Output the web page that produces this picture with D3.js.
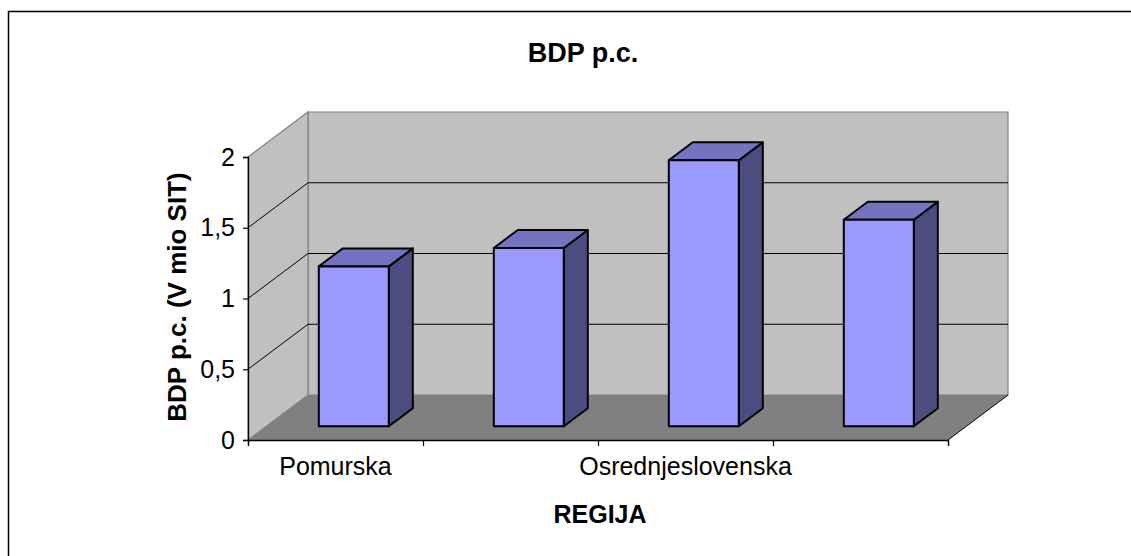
<!DOCTYPE html>
<html>
<head>
<meta charset="utf-8">
<script src="https://cdn.jsdelivr.net/npm/d3@7"></script>
<style>
  body { margin: 0; background: #fff; }
  svg { display: block; font-family: "Liberation Sans", Arial, sans-serif; }
</style>
</head>
<body>
<div id="chart"></div>
<script>
// data
const regions = ["Pomurska", "Podravska", "Osrednjeslovenska", "Obalno-kraška"];
const bdp = [1.13, 1.26, 1.88, 1.46];
const yTicks = [0, 0.5, 1, 1.5, 2];

const W = 1131, H = 556;
const svg = d3.select("#chart").append("svg")
    .attr("width", W)
    .attr("height", H);

// outer frame (runs off the right/bottom edge like the original)
svg.append("rect")
    .attr("x", 8.5).attr("y", 11.5)
    .attr("width", 1140).attr("height", 560)
    .attr("fill", "none")
    .attr("stroke", "#000")
    .attr("stroke-width", 1.5);

// 3d projection: depth z in [0,1] shifts right and up
const DX = 60, DY = -45;
const x = d3.scaleLinear().domain([0, regions.length]).range([248, 948]);
const y = d3.scaleLinear().domain([0, 2]).range([440, 157]);
const P = (u, v, z) => [x(u) + z * DX, y(v) + z * DY];
const poly = pts => pts.map(p => p.join(",")).join(" ");

const g = svg.append("g");
const n = regions.length;

// back wall
g.append("polygon")
    .attr("points", poly([P(0, 2, 1), P(n, 2, 1), P(n, 0, 1), P(0, 0, 1)]))
    .attr("fill", "#c0c0c0").attr("stroke", "#808080").attr("stroke-width", 1.2);
// left wall
g.append("polygon")
    .attr("points", poly([P(0, 0, 0), P(0, 2, 0), P(0, 2, 1), P(0, 0, 1)]))
    .attr("fill", "#c0c0c0").attr("stroke", "#808080").attr("stroke-width", 1.2);
// floor
g.append("polygon")
    .attr("points", poly([P(0, 0, 0), P(n, 0, 0), P(n, 0, 1), P(0, 0, 1)]))
    .attr("fill", "#808080");
g.append("line")
    .attr("x1", P(n, 0, 0)[0]).attr("y1", P(n, 0, 0)[1])
    .attr("x2", P(n, 0, 1)[0]).attr("y2", P(n, 0, 1)[1])
    .attr("stroke", "#000").attr("stroke-width", 1);

// gridlines on left and back wall
const grid = yTicks.filter(v => v > 0 && v < 2);
g.selectAll(".grid")
    .data(grid)
    .enter().append("polyline")
    .attr("points", v => poly([P(0, v, 0), P(0, v, 1), P(n, v, 1)]))
    .attr("fill", "none")
    .attr("stroke", "#000")
    .attr("stroke-width", 1);

// bars
const z0 = 0.305, z1 = 0.705, half = 0.2;
const bars = g.selectAll(".bar")
    .data(bdp)
    .enter().append("g");

bars.append("polygon") // side
    .attr("points", (d, i) => poly([P(i + 0.5 + half, 0, z0), P(i + 0.5 + half, d, z0), P(i + 0.5 + half, d, z1), P(i + 0.5 + half, 0, z1)]))
    .attr("fill", "#4c4c80");
bars.append("polygon") // top
    .attr("points", (d, i) => poly([P(i + 0.5 - half, d, z0), P(i + 0.5 + half, d, z0), P(i + 0.5 + half, d, z1), P(i + 0.5 - half, d, z1)]))
    .attr("fill", "#7373c0");
bars.append("polygon") // front
    .attr("points", (d, i) => poly([P(i + 0.5 - half, 0, z0), P(i + 0.5 + half, 0, z0), P(i + 0.5 + half, d, z0), P(i + 0.5 - half, d, z0)]))
    .attr("fill", "#9999ff");
bars.selectAll("polygon")
    .attr("stroke", "#000")
    .attr("stroke-width", 2)
    .attr("stroke-linejoin", "round");

// axes
const fmt = d3.formatLocale({ decimal: ",", thousands: ".", grouping: [3], currency: ["", ""] }).format("~g");
const yAxis = svg.append("g")
    .attr("transform", "translate(248,0)")
    .call(d3.axisLeft(y).tickValues(yTicks).tickFormat(fmt).tickSize(5).tickPadding(8));
const xAxis = svg.append("g")
    .attr("transform", "translate(0,440)")
    .call(d3.axisBottom(x).tickValues(d3.range(n + 1)).tickFormat("").tickSize(6));
[yAxis, xAxis].forEach(a => {
    a.select(".domain").attr("stroke", "#000").attr("stroke-width", 1.3);
    a.selectAll(".tick line").attr("stroke", "#000").attr("stroke-width", 1.2);
});
yAxis.selectAll(".tick text")
    .attr("font-size", 25)
    .attr("fill", "#000")
    .attr("font-family", "Liberation Sans, Arial, sans-serif");

// category labels, every second one like the original
svg.selectAll(".cat")
    .data(regions)
    .enter().append("text")
    .filter((d, i) => i % 2 === 0)
    .attr("x", (d, i) => x(i * 2 + 0.5))
    .attr("y", 475)
    .attr("text-anchor", "middle")
    .attr("font-size", 25)
    .text(d => d);

// titles
svg.append("text")
    .attr("x", 583).attr("y", 62)
    .attr("text-anchor", "middle")
    .attr("font-size", 27).attr("font-weight", "bold")
    .text("BDP p.c.");
svg.append("text")
    .attr("x", 600).attr("y", 523)
    .attr("text-anchor", "middle")
    .attr("font-size", 25).attr("font-weight", "bold")
    .text("REGIJA");
svg.append("text")
    .attr("transform", "translate(186,297) rotate(-90)")
    .attr("text-anchor", "middle")
    .attr("font-size", 26).attr("font-weight", "bold")
    .text("BDP p.c. (V mio SIT)");
</script>
</body>
</html>
